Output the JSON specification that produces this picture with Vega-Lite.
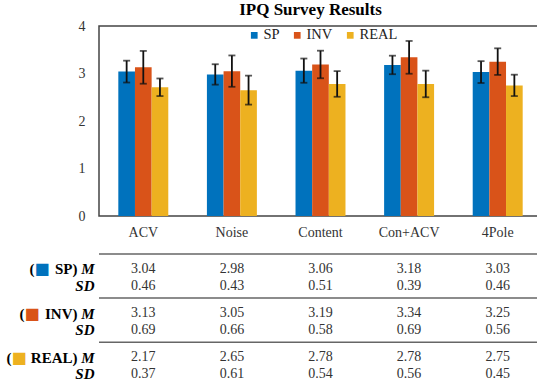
{
  "$schema": "https://vega.github.io/schema/vega-lite/v6.json",
  "padding": {"left": 6, "top": 0, "right": 0, "bottom": 0},
  "config": {"font": "Liberation Serif", "view": {"stroke": null}},
  "spacing": 11,
  "resolve": {"scale": {"color": "independent"}},
  "datasets": {
    "bars": [
      {"cat": "ACV", "grp": "SP", "m": 3.04, "lo": 2.81, "hi": 3.27},
      {"cat": "ACV", "grp": "INV", "m": 3.13, "lo": 2.785, "hi": 3.475},
      {"cat": "ACV", "grp": "REAL", "m": 2.71, "lo": 2.525, "hi": 2.895},
      {"cat": "Noise", "grp": "SP", "m": 2.98, "lo": 2.765, "hi": 3.195},
      {"cat": "Noise", "grp": "INV", "m": 3.05, "lo": 2.72, "hi": 3.38},
      {"cat": "Noise", "grp": "REAL", "m": 2.65, "lo": 2.345, "hi": 2.955},
      {"cat": "Content", "grp": "SP", "m": 3.06, "lo": 2.805, "hi": 3.315},
      {"cat": "Content", "grp": "INV", "m": 3.19, "lo": 2.9, "hi": 3.48},
      {"cat": "Content", "grp": "REAL", "m": 2.78, "lo": 2.51, "hi": 3.05},
      {"cat": "Con+ACV", "grp": "SP", "m": 3.18, "lo": 2.985, "hi": 3.375},
      {"cat": "Con+ACV", "grp": "INV", "m": 3.34, "lo": 2.995, "hi": 3.685},
      {"cat": "Con+ACV", "grp": "REAL", "m": 2.78, "lo": 2.5, "hi": 3.06},
      {"cat": "4Pole", "grp": "SP", "m": 3.03, "lo": 2.8, "hi": 3.26},
      {"cat": "4Pole", "grp": "INV", "m": 3.25, "lo": 2.97, "hi": 3.53},
      {"cat": "4Pole", "grp": "REAL", "m": 2.75, "lo": 2.525, "hi": 2.975}
    ],
    "lines": [{"t": 0}, {"t": 1}, {"t": 2}],
    "tbl": [
      {"cat": "ACV", "t": 0.34, "v": "3.04"}, {"cat": "Noise", "t": 0.34, "v": "2.98"}, {"cat": "Content", "t": 0.34, "v": "3.06"}, {"cat": "Con+ACV", "t": 0.34, "v": "3.18"}, {"cat": "4Pole", "t": 0.34, "v": "3.03"},
      {"cat": "ACV", "t": 0.72, "v": "0.46"}, {"cat": "Noise", "t": 0.72, "v": "0.43"}, {"cat": "Content", "t": 0.72, "v": "0.51"}, {"cat": "Con+ACV", "t": 0.72, "v": "0.39"}, {"cat": "4Pole", "t": 0.72, "v": "0.46"},
      {"cat": "ACV", "t": 1.34, "v": "3.13"}, {"cat": "Noise", "t": 1.34, "v": "3.05"}, {"cat": "Content", "t": 1.34, "v": "3.19"}, {"cat": "Con+ACV", "t": 1.34, "v": "3.34"}, {"cat": "4Pole", "t": 1.34, "v": "3.25"},
      {"cat": "ACV", "t": 1.72, "v": "0.69"}, {"cat": "Noise", "t": 1.72, "v": "0.66"}, {"cat": "Content", "t": 1.72, "v": "0.58"}, {"cat": "Con+ACV", "t": 1.72, "v": "0.69"}, {"cat": "4Pole", "t": 1.72, "v": "0.56"},
      {"cat": "ACV", "t": 2.34, "v": "2.17"}, {"cat": "Noise", "t": 2.34, "v": "2.65"}, {"cat": "Content", "t": 2.34, "v": "2.78"}, {"cat": "Con+ACV", "t": 2.34, "v": "2.78"}, {"cat": "4Pole", "t": 2.34, "v": "2.75"},
      {"cat": "ACV", "t": 2.72, "v": "0.37"}, {"cat": "Noise", "t": 2.72, "v": "0.61"}, {"cat": "Content", "t": 2.72, "v": "0.54"}, {"cat": "Con+ACV", "t": 2.72, "v": "0.56"}, {"cat": "4Pole", "t": 2.72, "v": "0.45"}
    ]
  },
  "vconcat": [
    {
      "width": 443,
      "height": 190,
      "view": {"stroke": "#444", "strokeWidth": 1.5},
      "title": {"text": "IPQ Survey Results", "font": "Liberation Serif", "fontSize": 17, "fontWeight": "bold", "color": "#000", "anchor": "middle", "dx": -10, "offset": 0},
      "data": {"name": "bars"},
      "encoding": {
        "x": {"field": "cat", "type": "nominal", "sort": ["ACV", "Noise", "Content", "Con+ACV", "4Pole"], "title": null,
              "scale": {"paddingInner": 0.436, "paddingOuter": 0.218},
              "axis": {"labelAngle": 0, "ticks": false, "domain": false, "labelPadding": 9, "labelFont": "Liberation Serif", "labelFontSize": 14, "labelColor": "#333"}},
        "xOffset": {"field": "grp", "type": "nominal", "sort": ["SP", "INV", "REAL"], "scale": {"paddingInner": 0, "paddingOuter": 0}}
      },
      "layer": [
        {
          "mark": {"type": "bar"},
          "encoding": {
            "y": {"field": "m", "type": "quantitative", "title": null, "scale": {"domain": [0, 4], "nice": false},
                  "axis": {"values": [0, 1, 2, 3, 4], "ticks": false, "domain": false, "grid": false, "labelPadding": 14, "labelFont": "Liberation Serif", "labelFontSize": 14, "labelColor": "#333"}},
            "color": {"field": "grp", "type": "nominal", "sort": ["SP", "INV", "REAL"],
                      "scale": {"domain": ["SP", "INV", "REAL"], "range": ["#0072BD", "#D95319", "#EDB120"]},
                      "legend": {"orient": "none", "legendX": 148, "legendY": 2, "direction": "horizontal", "title": null, "symbolType": "square", "symbolSize": 45, "symbolStrokeWidth": 0, "labelFont": "Liberation Serif", "labelFontSize": 14.5, "labelColor": "#222", "columnPadding": 10, "labelOffset": 2}}
          }
        },
        {
          "mark": {"type": "rule", "color": "#111", "strokeWidth": 1.8},
          "encoding": {"y": {"field": "lo", "type": "quantitative", "title": null}, "y2": {"field": "hi"}}
        },
        {
          "mark": {"type": "tick", "color": "#111", "thickness": 1.8, "size": 7},
          "encoding": {"y": {"field": "lo", "type": "quantitative", "title": null}}
        },
        {
          "mark": {"type": "tick", "color": "#111", "thickness": 1.8, "size": 7},
          "encoding": {"y": {"field": "hi", "type": "quantitative", "title": null}}
        }
      ]
    },
    {
      "width": 443,
      "height": 130,
      "view": {"stroke": null},
      "resolve": {"axis": {"y": "independent"}},
      "layer": [
        {
          "data": {"name": "lines"},
          "mark": {"type": "rule", "color": "#666", "strokeWidth": 1.5},
          "encoding": {
            "y": {"field": "t", "type": "quantitative", "title": null,
                  "scale": {"domain": [0, 2.95], "nice": false, "zero": false, "reverse": true},
                  "axis": {"orient": "left", "values": [0.34, 0.72, 1.34, 1.72, 2.34, 2.72], "labelExpr": "(datum.value % 1) < 0.5 ? 'M' : 'SD'", "ticks": false, "domain": false, "grid": false, "labelPadding": 5, "labelFont": "Liberation Serif", "labelFontSize": 15, "labelFontWeight": "bold", "labelFontStyle": "italic", "labelColor": "#000"}}
          }
        },
        {
          "data": {"name": "tbl"},
          "mark": {"type": "text", "font": "Liberation Serif", "fontSize": 14, "color": "#333", "baseline": "middle"},
          "encoding": {
            "x": {"field": "cat", "type": "nominal", "sort": ["ACV", "Noise", "Content", "Con+ACV", "4Pole"], "scale": {"paddingInner": 0.436, "paddingOuter": 0.218}, "axis": null},
            "y": {"field": "t", "type": "quantitative", "title": null, "axis": null},
            "text": {"field": "v"}
          }
        },
        {
          "data": {"name": "lines"},
          "mark": {"type": "point", "opacity": 0},
          "encoding": {
            "y": {"field": "t", "type": "quantitative", "title": null,
                  "axis": {"orient": "left", "values": [0.34, 1.34, 2.34], "labelExpr": "datum.value < 1 ? 'SP)' : datum.value < 2 ? 'INV)' : 'REAL)'", "ticks": false, "domain": false, "grid": false, "labelPadding": 22, "labelFont": "Liberation Serif", "labelFontSize": 15, "labelFontWeight": "bold", "labelColor": "#000"}}
          }
        },
        {
          "data": {"name": "lines"},
          "mark": {"type": "point", "opacity": 0},
          "encoding": {
            "y": {"field": "t", "type": "quantitative", "title": null,
                  "axis": {"orient": "left", "values": [0.34, 1.34, 2.34], "labelExpr": "'\u25a0'", "ticks": false, "domain": false, "grid": false,
                           "labelPadding": {"condition": [{"test": "datum.value < 1", "value": 50}, {"test": "datum.value < 2", "value": 60}], "value": 73},
                           "labelFont": "DejaVu Sans", "labelFontSize": 16,
                           "labelColor": {"condition": [{"test": "datum.value < 1", "value": "#0072BD"}, {"test": "datum.value < 2", "value": "#D95319"}], "value": "#EDB120"}}}
          }
        },
        {
          "data": {"name": "lines"},
          "mark": {"type": "point", "opacity": 0},
          "encoding": {
            "y": {"field": "t", "type": "quantitative", "title": null,
                  "axis": {"orient": "left", "values": [0.34, 1.34, 2.34], "labelExpr": "'('", "ticks": false, "domain": false, "grid": false,
                           "labelPadding": {"condition": [{"test": "datum.value < 1", "value": 65}, {"test": "datum.value < 2", "value": 75}], "value": 88},
                           "labelFont": "Liberation Serif", "labelFontSize": 15, "labelFontWeight": "bold", "labelColor": "#000"}}
          }
        }
      ]
    }
  ]
}
